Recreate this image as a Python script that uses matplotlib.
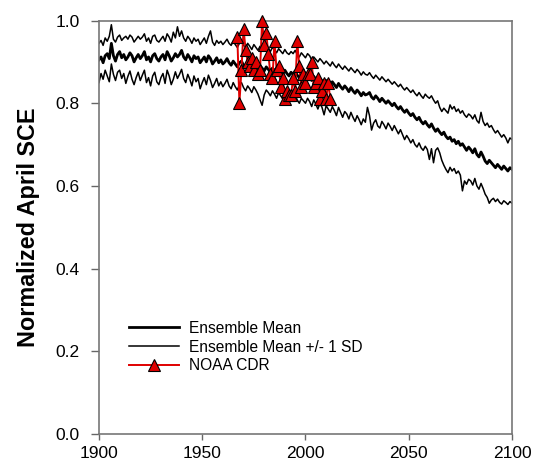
import numpy as np
import matplotlib
matplotlib.use("Agg")
import matplotlib.pyplot as plt

plt.rcParams["font.family"] = ["Liberation Sans", "DejaVu Sans"]

# Model years 1900-2100
years = np.arange(1900, 2101)

# Ensemble mean (one per year)
ens_mean = [
    0.905, 0.912, 0.898, 0.915, 0.920, 0.908, 0.945, 0.915, 0.902, 0.918,
    0.925, 0.910, 0.918, 0.905, 0.912, 0.922, 0.915, 0.900, 0.910, 0.918,
    0.908, 0.915, 0.925, 0.905, 0.912, 0.900, 0.915, 0.920, 0.908, 0.902,
    0.912, 0.918, 0.905, 0.925, 0.915, 0.902, 0.910, 0.920, 0.912, 0.918,
    0.928, 0.912, 0.905, 0.918, 0.910, 0.900, 0.915, 0.908, 0.912, 0.898,
    0.905, 0.912, 0.900, 0.915, 0.908, 0.895, 0.902, 0.910, 0.898, 0.905,
    0.895, 0.900, 0.908, 0.898, 0.892, 0.902, 0.895, 0.888, 0.898, 0.902,
    0.892, 0.885, 0.895, 0.890, 0.882, 0.893, 0.887, 0.880, 0.890, 0.885,
    0.878, 0.888, 0.882, 0.875, 0.885, 0.880, 0.872, 0.882, 0.876, 0.870,
    0.880, 0.872, 0.866, 0.875, 0.870, 0.878, 0.868, 0.862, 0.872, 0.866,
    0.860, 0.870, 0.864, 0.855, 0.865, 0.858, 0.850, 0.860, 0.854, 0.846,
    0.855, 0.848, 0.842, 0.852, 0.845, 0.838, 0.848, 0.840, 0.834, 0.842,
    0.836, 0.828, 0.838, 0.830, 0.824, 0.832, 0.826, 0.818, 0.826, 0.820,
    0.822, 0.826, 0.815, 0.810, 0.818, 0.812, 0.804, 0.812, 0.806, 0.800,
    0.806, 0.800, 0.794, 0.800, 0.792, 0.786, 0.792, 0.784, 0.778, 0.784,
    0.776, 0.770, 0.775, 0.766, 0.760, 0.766, 0.756, 0.750, 0.756, 0.748,
    0.742, 0.750, 0.740, 0.732, 0.738, 0.730, 0.724, 0.730, 0.720, 0.714,
    0.718, 0.708, 0.712, 0.702, 0.708, 0.698, 0.702, 0.694, 0.686, 0.694,
    0.688, 0.680, 0.690, 0.676, 0.670, 0.682, 0.672, 0.660, 0.654, 0.662,
    0.656, 0.650, 0.644, 0.652, 0.646, 0.640, 0.648, 0.642, 0.636, 0.644,
    0.640,
]

# Ensemble mean + 1 SD
ens_upper = [
    0.945, 0.952, 0.940, 0.958, 0.950, 0.962, 0.990, 0.955, 0.948, 0.960,
    0.965, 0.952, 0.958, 0.962, 0.955, 0.965, 0.960, 0.948, 0.955, 0.962,
    0.955, 0.960, 0.968, 0.950, 0.958, 0.945, 0.962, 0.965, 0.952, 0.948,
    0.955, 0.962, 0.950, 0.968, 0.960, 0.948, 0.972, 0.958, 0.985, 0.962,
    0.975, 0.958, 0.950, 0.962, 0.955, 0.945, 0.958, 0.950, 0.955, 0.942,
    0.950, 0.958, 0.945, 0.962, 0.975, 0.948, 0.940, 0.952, 0.945, 0.950,
    0.942, 0.948, 0.955, 0.945, 0.940, 0.950, 0.942, 0.935, 0.945, 0.950,
    0.940, 0.935, 0.945, 0.938, 0.930, 0.942, 0.935, 0.928, 0.938, 0.932,
    0.928, 0.938, 0.932, 0.925, 0.935, 0.930, 0.922, 0.932, 0.926, 0.920,
    0.930, 0.922, 0.918, 0.925, 0.920, 0.928, 0.918, 0.912, 0.922, 0.916,
    0.910, 0.920, 0.915, 0.905, 0.912, 0.906, 0.900, 0.908, 0.902, 0.895,
    0.902, 0.896, 0.890, 0.900, 0.892, 0.886, 0.895, 0.888, 0.882, 0.890,
    0.884, 0.878, 0.886, 0.880, 0.874, 0.882, 0.876, 0.868, 0.876, 0.870,
    0.868, 0.874, 0.866, 0.860, 0.868, 0.862, 0.856, 0.864, 0.858, 0.852,
    0.858, 0.852, 0.846, 0.852, 0.846, 0.840, 0.846, 0.838, 0.832, 0.838,
    0.832, 0.826, 0.832, 0.824, 0.818, 0.826, 0.818, 0.812, 0.822, 0.816,
    0.812, 0.818, 0.808, 0.800, 0.806, 0.790, 0.780, 0.788, 0.782, 0.776,
    0.796, 0.786, 0.792, 0.780, 0.786, 0.776, 0.782, 0.772, 0.766, 0.774,
    0.770, 0.762, 0.772, 0.758, 0.752, 0.778, 0.756, 0.746, 0.752, 0.742,
    0.746, 0.736, 0.728, 0.734, 0.726, 0.718, 0.724, 0.716, 0.704, 0.716,
    0.712,
]

# Ensemble mean - 1 SD
ens_lower = [
    0.850, 0.872, 0.858, 0.880, 0.866, 0.852, 0.895, 0.870, 0.855, 0.875,
    0.880, 0.860, 0.872, 0.848, 0.865, 0.878, 0.858, 0.845, 0.862, 0.875,
    0.855, 0.868, 0.880, 0.850, 0.862, 0.842, 0.866, 0.875, 0.852, 0.845,
    0.862, 0.872, 0.848, 0.880, 0.866, 0.845, 0.858, 0.876, 0.860, 0.870,
    0.882, 0.860, 0.850, 0.870, 0.858, 0.842, 0.866, 0.852, 0.860, 0.835,
    0.850, 0.862, 0.845, 0.868, 0.855, 0.838, 0.848, 0.860, 0.842, 0.852,
    0.840, 0.848, 0.858, 0.842, 0.835, 0.850, 0.840, 0.832, 0.845, 0.850,
    0.838, 0.830, 0.842, 0.835, 0.826, 0.840, 0.832, 0.822, 0.808, 0.795,
    0.820, 0.832, 0.826, 0.818, 0.830, 0.822, 0.812, 0.826, 0.818, 0.810,
    0.822, 0.812, 0.806, 0.816, 0.810, 0.820, 0.808, 0.800, 0.812, 0.806,
    0.800, 0.812, 0.804, 0.792, 0.808, 0.798, 0.786, 0.800, 0.790, 0.772,
    0.794, 0.786, 0.778, 0.792, 0.782, 0.770, 0.790, 0.778, 0.766, 0.780,
    0.774, 0.762, 0.778, 0.766, 0.756, 0.770, 0.760, 0.748, 0.762, 0.754,
    0.790, 0.770, 0.735, 0.752, 0.760, 0.745, 0.740, 0.756, 0.748, 0.738,
    0.752, 0.744, 0.734, 0.746, 0.736, 0.726, 0.736, 0.724, 0.712, 0.722,
    0.714, 0.704, 0.712, 0.700, 0.694, 0.704, 0.692, 0.686, 0.696, 0.688,
    0.664, 0.690, 0.656, 0.686, 0.692, 0.680, 0.662, 0.650, 0.640, 0.632,
    0.645, 0.636, 0.642, 0.630, 0.636, 0.626, 0.588, 0.612, 0.604, 0.616,
    0.612, 0.602, 0.618, 0.600, 0.592, 0.606, 0.594, 0.580, 0.572, 0.558,
    0.566, 0.570, 0.562, 0.568, 0.560, 0.556, 0.564, 0.560, 0.555, 0.562,
    0.558,
]

# NOAA CDR observations 1967-2012
cdr_years = np.arange(1967, 2013)
cdr_values = [
    0.96, 0.80, 0.88, 0.98, 0.93, 0.90, 0.89, 0.91, 0.88, 0.90,
    0.87, 0.88, 1.00, 0.94, 0.97, 0.92, 0.87, 0.86, 0.95, 0.88,
    0.89, 0.84, 0.86, 0.81, 0.83, 0.82, 0.82, 0.86, 0.83, 0.95,
    0.89, 0.84, 0.87, 0.85, 0.87, 0.87, 0.90, 0.84, 0.85, 0.86,
    0.81, 0.83, 0.85, 0.81, 0.85, 0.81,
]

fig = plt.figure(figsize=(5.35, 4.68), dpi=100)
ax = fig.add_axes([0.185, 0.073, 0.772, 0.883])

ax.plot(years, ens_mean, color="black", linewidth=2.0, label="Ensemble Mean")
ax.plot(years, ens_upper, color="black", linewidth=1.1, label="Ensemble Mean +/- 1 SD")
ax.plot(years, ens_lower, color="black", linewidth=1.1)
ax.plot(cdr_years, cdr_values, color="#e00000", linewidth=1.4, marker="^",
        markersize=8, markerfacecolor="#e00000", markeredgecolor="black",
        markeredgewidth=0.8, label="NOAA CDR", clip_on=False, zorder=3)

ax.set_xlim(1900, 2100)
ax.set_ylim(0, 1.0)
ax.set_xticks([1900, 1950, 2000, 2050, 2100])
ax.set_yticks([0.0, 0.2, 0.4, 0.6, 0.8, 1.0])
ax.set_yticklabels(["0.0", "0.2", "0.4", "0.6", "0.8", "1.0"])
ax.tick_params(axis="both", direction="out", width=1, color="#666666",
               labelsize=12.5)
ax.tick_params(axis="x", length=4, pad=5)
ax.tick_params(axis="y", length=6, pad=8)

for side in ["top", "bottom", "left", "right"]:
    ax.spines[side].set_color("#777777")
    ax.spines[side].set_linewidth(1.2)

ax.set_ylabel("Normalized April SCE", fontsize=16.8, fontweight="bold", labelpad=11)

ax.legend(loc="center left", bbox_to_anchor=(0.04, 0.21), frameon=False,
          fontsize=11.2, handlelength=3.2, labelspacing=0.25, handletextpad=0.6)

fig.savefig("out.png", dpi=100)
